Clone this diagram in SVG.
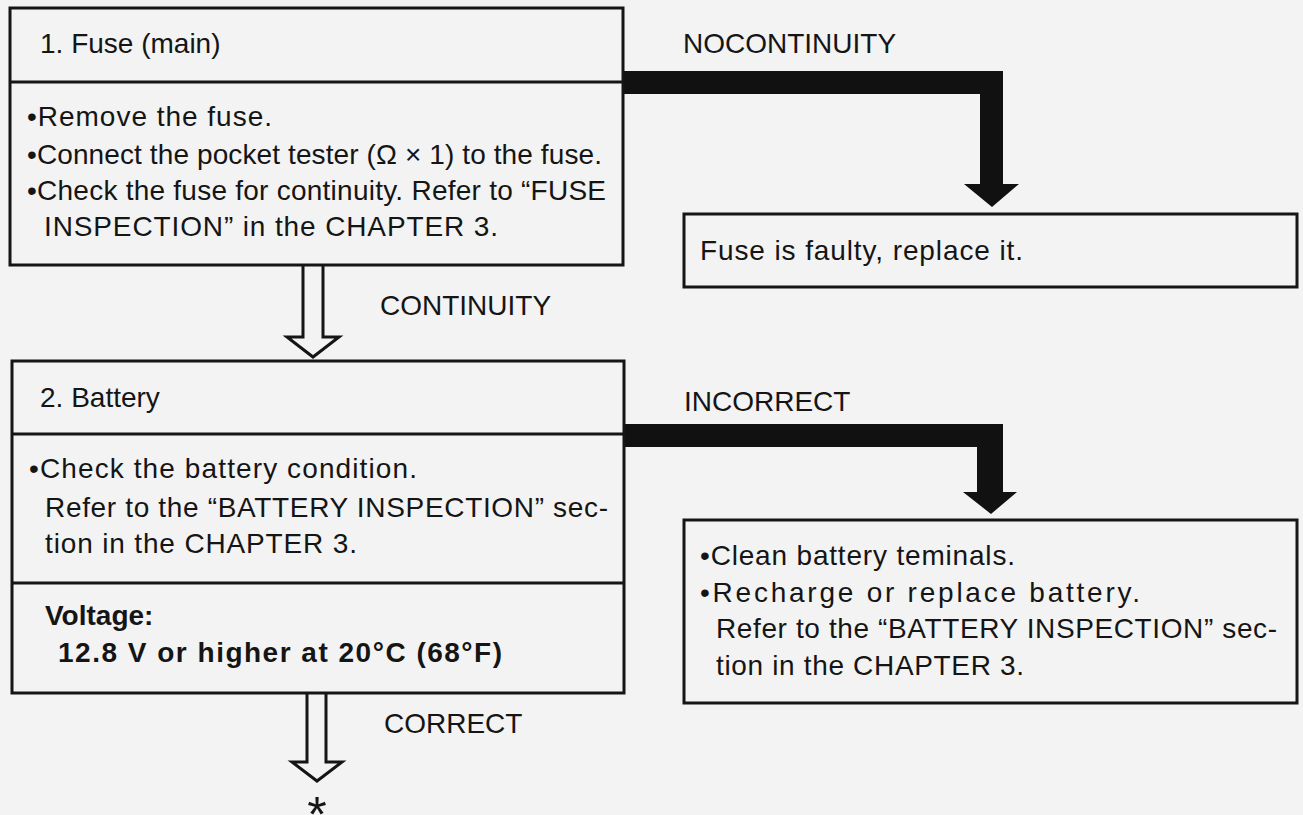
<svg xmlns="http://www.w3.org/2000/svg" width="1303" height="815" viewBox="0 0 1303 815">
<style>
.bx{fill:none;stroke:#151515;stroke-width:3}
.dv{stroke:#151515;stroke-width:3}
.t{font-family:"Liberation Sans",Arial,sans-serif;font-size:28px;fill:#151515}
.b{font-weight:bold}
.solid{fill:#111;stroke:none}
.hollow{fill:#f3f3f3;stroke:#151515;stroke-width:3;stroke-linejoin:miter}
</style>
<rect x="0" y="0" width="1303" height="815" fill="#f3f3f3"/>
<g id="connectors">
<polygon class="solid" points="623,71 1003,71 1003,184 1019,184 992,207 964,184 980,184 980,94 623,94"/>
<polygon class="solid" points="624,424 1003,424 1003,492 1017,492 991,514 963,492 977,492 977,447 624,447"/>
<path class="hollow" d="M303,265 V337 H287 L313,357 L339,337 H323 V265"/>
<path class="hollow" d="M307,693 V762 H292 L317,781 L342,762 H326 V693"/>
</g>
<g id="node-fuse">
<rect class="bx" x="10" y="8" width="613" height="257"/>
<line class="dv" x1="10" y1="82" x2="623" y2="82"/>
<text class="t" x="40" y="53">1. Fuse (main)</text>
<text class="t" x="27" y="126" textLength="245">•Remove the fuse.</text>
<text class="t" x="27" y="164" textLength="575">•Connect the pocket tester (Ω × 1) to the fuse.</text>
<text class="t" x="27" y="200" textLength="579">•Check the fuse for continuity. Refer to “FUSE</text>
<text class="t" x="44" y="236" textLength="454">INSPECTION” in the CHAPTER 3.</text>
</g>
<g id="label-nocontinuity"><text class="t" x="683" y="53">NOCONTINUITY</text></g>
<g id="node-fuse-faulty">
<rect class="bx" x="684" y="214" width="613" height="73"/>
<text class="t" x="700" y="260" textLength="323">Fuse is faulty, replace it.</text>
</g>
<g id="label-continuity"><text class="t" x="380" y="315">CONTINUITY</text></g>
<g id="node-battery">
<rect class="bx" x="12" y="361" width="612" height="332"/>
<line class="dv" x1="12" y1="434" x2="624" y2="434"/>
<line class="dv" x1="12" y1="583" x2="624" y2="583"/>
<text class="t" x="40" y="407">2. Battery</text>
<text class="t" x="29" y="478" textLength="388">•Check the battery condition.</text>
<text class="t" x="45" y="517" textLength="563">Refer to the “BATTERY INSPECTION” sec-</text>
<text class="t" x="45" y="553" textLength="312">tion in the CHAPTER 3.</text>
<text class="t b" x="45" y="625">Voltage:</text>
<text class="t b" x="58" y="662" textLength="444">12.8 V or higher at 20°C (68°F)</text>
</g>
<g id="label-incorrect"><text class="t" x="684" y="411">INCORRECT</text></g>
<g id="node-battery-fix">
<rect class="bx" x="684" y="520" width="613" height="183"/>
<text class="t" x="700" y="565" textLength="315">•Clean battery teminals.</text>
<text class="t" x="700" y="602" textLength="440">•Recharge or replace battery.</text>
<text class="t" x="716" y="638" textLength="561">Refer to the “BATTERY INSPECTION” sec-</text>
<text class="t" x="716" y="675" textLength="308">tion in the CHAPTER 3.</text>
</g>
<g id="label-correct"><text class="t" x="384" y="733">CORRECT</text></g>
<g id="next-marker"><text class="t" x="317" y="832" text-anchor="middle" style="font-size:50px">*</text></g>
</svg>
